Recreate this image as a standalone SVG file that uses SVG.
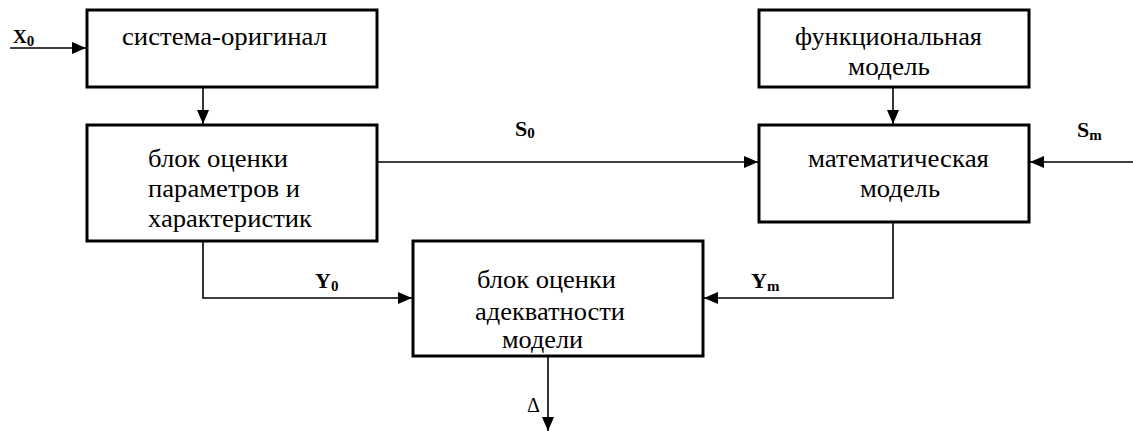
<svg xmlns="http://www.w3.org/2000/svg" width="1133" height="431" viewBox="0 0 1133 431" xml:lang="ru">
  <style>
    .box { fill: #ffffff; stroke: #000000; stroke-width: 3; }
    .wire { fill: none; stroke: #000000; stroke-width: 1.6; }
    .txt { font-family: "Liberation Serif", "Times New Roman", "DejaVu Serif", serif; font-size: 26px; fill: #000000; }
    .lbl { font-family: "Liberation Serif", "Times New Roman", "DejaVu Serif", serif; font-size: 22px; font-weight: bold; fill: #000000; }
    .sub { font-size: 15px; }
  </style>
  <defs>
    <marker id="arrow" markerUnits="userSpaceOnUse" markerWidth="14" markerHeight="12" refX="14" refY="6" orient="auto">
      <path d="M0,0 L14,6 L0,12 Z" fill="#000000"/>
    </marker>
  </defs>

  <rect width="1133" height="431" fill="#ffffff"/>

  <!-- signal lines between the blocks -->
  <g id="connectors">
    <line class="wire" x1="10" y1="48" x2="86" y2="48" marker-end="url(#arrow)"/>
    <line class="wire" x1="203" y1="87" x2="203" y2="124" marker-end="url(#arrow)"/>
    <line class="wire" x1="377" y1="162" x2="758" y2="162" marker-end="url(#arrow)"/>
    <line class="wire" x1="893" y1="87" x2="893" y2="124" marker-end="url(#arrow)"/>
    <line class="wire" x1="1133" y1="162" x2="1030" y2="162" marker-end="url(#arrow)"/>
    <polyline class="wire" points="203,241 203,298 412,298" marker-end="url(#arrow)"/>
    <polyline class="wire" points="893,222 893,298 704,298" marker-end="url(#arrow)"/>
    <line class="wire" x1="548" y1="356" x2="548" y2="431" marker-end="url(#arrow)"/>

    <!-- signal names -->
    <text class="lbl" x="13" y="43" style="font-size:19px">X<tspan class="sub" dy="3">0</tspan></text>
    <text class="lbl" x="515" y="136">S<tspan class="sub" dy="2">0</tspan></text>
    <text class="lbl" x="1077" y="137">S<tspan class="sub" dy="3">m</tspan></text>
    <text class="lbl" x="315" y="288">Y<tspan class="sub" dy="3">0</tspan></text>
    <text class="lbl" x="751" y="288">Y<tspan class="sub" dy="3">m</tspan></text>
    <text class="txt" x="527" y="412" style="font-size:20px">Δ</text>
  </g>

  <g id="node-original">
    <rect class="box" x="87" y="10" width="290" height="77"/>
    <text class="txt" x="122" y="45" textLength="205" lengthAdjust="spacingAndGlyphs">система-оригинал</text>
  </g>

  <g id="node-estimation">
    <rect class="box" x="87" y="125" width="290" height="116"/>
    <text class="txt" x="148" y="167" textLength="140" lengthAdjust="spacingAndGlyphs">блок оценки</text>
    <text class="txt" x="148" y="197" textLength="152" lengthAdjust="spacingAndGlyphs">параметров и</text>
    <text class="txt" x="148" y="227" textLength="164" lengthAdjust="spacingAndGlyphs">характеристик</text>
  </g>

  <g id="node-functional">
    <rect class="box" x="759" y="10" width="270" height="77"/>
    <text class="txt" x="795" y="45" textLength="187" lengthAdjust="spacingAndGlyphs">функциональная</text>
    <text class="txt" x="848" y="75" textLength="82" lengthAdjust="spacingAndGlyphs">модель</text>
  </g>

  <g id="node-math">
    <rect class="box" x="759" y="125" width="270" height="97"/>
    <text class="txt" x="808" y="167" textLength="181" lengthAdjust="spacingAndGlyphs">математическая</text>
    <text class="txt" x="860" y="197" textLength="80" lengthAdjust="spacingAndGlyphs">модель</text>
  </g>

  <g id="node-adequacy">
    <rect class="box" x="413" y="241" width="290" height="115"/>
    <text class="txt" x="477" y="288" textLength="139" lengthAdjust="spacingAndGlyphs">блок оценки</text>
    <text class="txt" x="475" y="320" textLength="150" lengthAdjust="spacingAndGlyphs">адекватности</text>
    <text class="txt" x="502" y="348" textLength="81" lengthAdjust="spacingAndGlyphs">модели</text>
  </g>
</svg>
